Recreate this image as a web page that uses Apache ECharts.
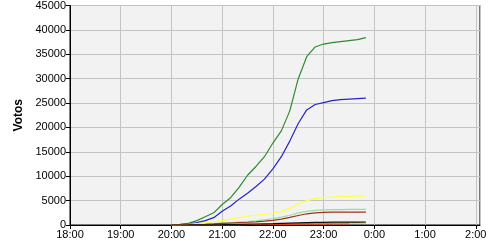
<!DOCTYPE html>
<html><head><meta charset="utf-8">
<script src="https://cdn.jsdelivr.net/npm/echarts@6/dist/echarts.min.js"></script>
<style>html,body{margin:0;padding:0;background:#fff}#c{width:500px;height:250px}</style>
</head><body><div id="c"></div>
<script>
// minutes since 18:00
const minutes = [120,130,140,150,160,170,180,190,200,210,220,230,240,250,260,270,280,290,300,310,320,330,340,350];
const xTickLabels = ['18:00','19:00','20:00','21:00','22:00','23:00','0:00','1:00','2:00'];
const yTickLabels = [0,5000,10000,15000,20000,25000,30000,35000,40000,45000];
const sGreen  = [0,150,320,900,1700,2500,4200,5600,7700,10200,12000,14000,16800,19300,23400,30000,34500,36500,37100,37400,37600,37800,38000,38400];
const sBlue   = [0,80,180,500,900,1500,2800,3900,5300,6500,7900,9400,11500,14000,17200,20800,23600,24700,25100,25500,25700,25800,25900,26000];
const sYellow = [0,50,150,300,450,700,900,1200,1500,1800,2000,2200,2450,2800,3400,4300,5000,5400,5600,5700,5800,5850,5900,5900];
const sLight  = [0,20,60,120,200,300,400,500,600,700,850,1050,1300,1600,2000,2500,2800,3000,3100,3150,3150,3200,3200,3200];
const sBrown  = [0,15,40,80,150,230,320,400,480,560,650,780,950,1200,1550,1950,2300,2500,2580,2620,2640,2650,2650,2650];
const sBlack  = [0,5,10,20,30,50,70,100,130,160,200,240,280,330,380,430,480,520,550,570,580,590,600,610];
const sGold   = [0,3,6,10,20,30,45,60,80,100,120,150,180,210,250,290,330,360,380,400,410,420,430,440];
const sRed    = [0,2,4,6,10,15,20,30,40,50,60,75,90,110,130,150,170,185,195,200,205,210,null,null];

const seriesDefs = [
  ['Green', sGreen, '#2f8a2f'],
  ['Blue', sBlue, '#2424cc'],
  ['Yellow', sYellow, '#ffff44'],
  ['Light', sLight, '#98e098'],
  ['Brown', sBrown, '#993322'],
  ['Gold', sGold, '#d8a800'],
  ['Red', sRed, '#e04010'],
  ['Black', sBlack, '#111111']
];

const chart = echarts.init(document.getElementById('c'), null, {renderer:'canvas'});
const font = 'Liberation Sans, Arial, sans-serif';
chart.setOption({
  animation:false,
  grid:{left:70, top:5, right:20, bottom:25, show:true, backgroundColor:'#f2f2f2', borderColor:'#000', borderWidth:1},
  xAxis:{type:'value', min:0, max:485, interval:60,
    axisLine:{show:true, lineStyle:{color:'#000'}},
    axisTick:{show:true, length:4, lineStyle:{color:'#000'}},
    axisLabel:{color:'#000', fontFamily:font, fontSize:11, margin:4, showMaxLabel:false,
      formatter:v => xTickLabels[Math.round(v/60)] || ''},
    splitLine:{show:true, lineStyle:{color:'#c4c4c4', width:1}}},
  yAxis:{type:'value', min:0, max:45000, interval:5000,
    name:'Votos', nameLocation:'middle', nameGap:45, nameRotate:90,
    nameTextStyle:{fontFamily:font, fontSize:12, fontWeight:'bold', color:'#000'},
    axisLine:{show:true, lineStyle:{color:'#000'}},
    axisTick:{show:true, length:4, lineStyle:{color:'#000'}},
    axisLabel:{color:'#000', fontFamily:font, fontSize:11, margin:4,
      formatter:v => String(yTickLabels[Math.round(v/5000)])},
    splitLine:{show:true, lineStyle:{color:'#c4c4c4', width:1}}},
  series: seriesDefs.map(([n, d, c]) => ({
    name:n, type:'line', showSymbol:false, symbol:'none',
    lineStyle:{color:c, width:1.2}, itemStyle:{color:c},
    data: minutes.map((m,i) => [m, d[i]])
  }))
});
</script></body></html>
